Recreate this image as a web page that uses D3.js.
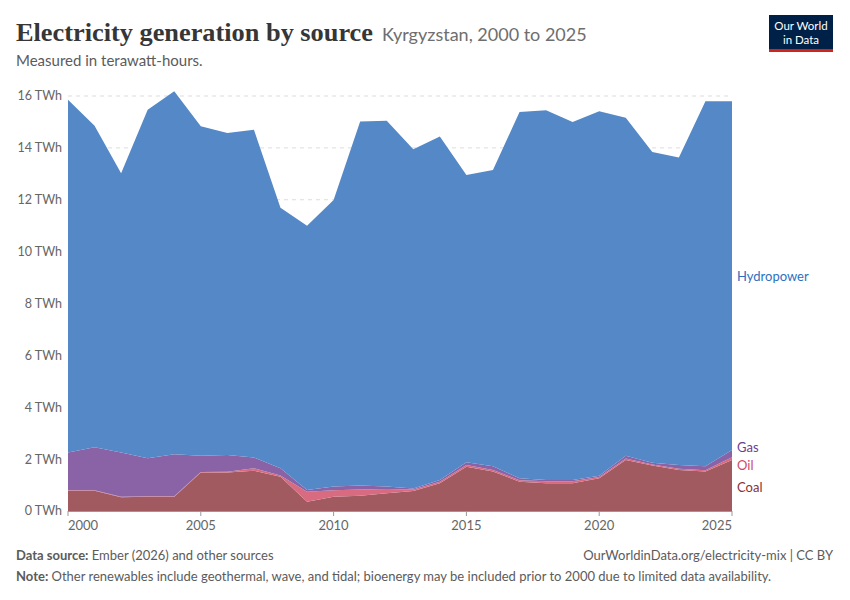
<!DOCTYPE html>
<html>
<head>
<meta charset="utf-8">
<script src="https://cdn.jsdelivr.net/npm/d3@7"></script>
<style>
  body { margin: 0; background: #fff; }
  text { font-family: Lato, "Noto Sans", sans-serif; }
</style>
</head>
<body>
<div id="chart"></div>
<script>
// values, TWh per year
let years = [2000, 2001, 2002, 2003, 2004, 2005, 2006, 2007, 2008, 2009, 2010, 2011, 2012,
             2013, 2014, 2015, 2016, 2017, 2018, 2019, 2020, 2021, 2022, 2023, 2024, 2025];
let coal = [0.78, 0.78, 0.53, 0.55, 0.55, 1.48, 1.48, 1.55, 1.32, 0.36, 0.55, 0.59, 0.68,
            0.77, 1.07, 1.71, 1.52, 1.13, 1.07, 1.07, 1.26, 1.97, 1.75, 1.58, 1.52, 1.97];
let oil = [0.02, 0.02, 0.02, 0.02, 0.02, 0.02, 0.03, 0.10, 0.05, 0.38, 0.25, 0.24, 0.17,
           0.06, 0.06, 0.06, 0.06, 0.06, 0.08, 0.08, 0.05, 0.05, 0.04, 0.05, 0.05, 0.10];
let gas = [1.46, 1.66, 1.71, 1.46, 1.62, 0.63, 0.65, 0.41, 0.28, 0.07, 0.14, 0.15, 0.09,
           0.04, 0.07, 0.11, 0.15, 0.07, 0.05, 0.05, 0.05, 0.11, 0.07, 0.14, 0.16, 0.28];
let hydro = [13.60, 12.39, 10.76, 13.44, 13.99, 12.70, 12.41, 12.64, 10.04, 10.19, 11.05, 14.04, 14.11,
             13.08, 13.24, 11.07, 11.42, 14.12, 14.25, 13.80, 14.05, 13.03, 11.98, 11.86, 14.07, 13.45];
let yTicks = [0, 2, 4, 6, 8, 10, 12, 14, 16];
let xTicks = [2000, 2005, 2010, 2015, 2020, 2025];

let sources = ["Coal", "Oil", "Gas", "Hydropower"];
let fills = { Coal: "#a05a60", Oil: "#d86b80", Gas: "#8a63a7", Hydropower: "#5488c7" };
let labelColors = { Coal: "#883039", Oil: "#cf4a68", Gas: "#6d3e91", Hydropower: "#2f6fbf" };

let width = 850, height = 600;
let plotLeft = 68, plotRight = 732, plotTop = 96, plotBottom = 511;

let svg = d3.select("#chart").append("svg")
    .attr("width", width)
    .attr("height", height);

// header
svg.append("text")
    .attr("x", 16).attr("y", 41)
    .style("font-family", "'Liberation Serif', 'DejaVu Serif', serif")
    .style("font-size", "26px")
    .style("font-weight", "bold")
    .attr("fill", "#363636")
    .attr("textLength", 357)
    .attr("lengthAdjust", "spacingAndGlyphs")
    .text("Electricity generation by source");

svg.append("text")
    .attr("x", 382).attr("y", 41)
    .style("font-size", "18px")
    .attr("fill", "#6e6e6e")
    .text("Kyrgyzstan, 2000 to 2025");

svg.append("text")
    .attr("x", 16).attr("y", 66)
    .style("font-size", "15px")
    .attr("fill", "#5b5b5b")
    .text("Measured in terawatt-hours.");

// logo
let logo = svg.append("g");
logo.append("rect").attr("x", 769).attr("y", 15).attr("width", 64).attr("height", 37).attr("fill", "#002147");
logo.append("rect").attr("x", 769).attr("y", 49).attr("width", 64).attr("height", 3).attr("fill", "#ce261e");
logo.append("text").attr("x", 801).attr("y", 30).attr("text-anchor", "middle")
    .style("font-size", "11.5px").attr("fill", "#fff").text("Our World");
logo.append("text").attr("x", 801).attr("y", 44).attr("text-anchor", "middle")
    .style("font-size", "11.5px").attr("fill", "#fff").text("in Data");

let x = d3.scaleLinear().domain([2000, 2025]).range([plotLeft, plotRight]);
let y = d3.scaleLinear().domain([0, 16]).range([plotBottom, plotTop]);

// gridlines + y labels
let grid = svg.append("g");
yTicks.forEach(function (t) {
    if (t > 0) {
        grid.append("line")
            .attr("x1", plotLeft).attr("x2", plotRight)
            .attr("y1", y(t)).attr("y2", y(t))
            .attr("stroke", "#dddddd")
            .attr("stroke-dasharray", "4,4");
    }
    grid.append("text")
        .attr("x", 62).attr("y", y(t)).attr("dy", "0.35em")
        .attr("text-anchor", "end")
        .style("font-size", "12.5px")
        .attr("fill", "#666")
        .text(t + " TWh");
});

// stacked areas
let rows = years.map(function (yr, i) {
    return { year: yr, Coal: coal[i], Oil: oil[i], Gas: gas[i], Hydropower: hydro[i] };
});
let stacked = d3.stack().keys(sources)(rows);

let area = d3.area()
    .x(function (d) { return x(d.data.year); })
    .y0(function (d) { return y(d[0]); })
    .y1(function (d) { return y(d[1]); });

svg.append("g").selectAll("path")
    .data(stacked)
    .enter()
    .append("path")
    .attr("d", area)
    .attr("fill", function (d) { return fills[d.key]; });

// x axis
let axis = svg.append("g");
axis.append("line")
    .attr("x1", plotLeft).attr("x2", plotRight)
    .attr("y1", plotBottom + 0.5).attr("y2", plotBottom + 0.5)
    .attr("stroke", "#999");
xTicks.forEach(function (t, i) {
    axis.append("line")
        .attr("x1", x(t)).attr("x2", x(t))
        .attr("y1", plotBottom).attr("y2", plotBottom + 5)
        .attr("stroke", "#999");
    let anchor = i === 0 ? "start" : (i === xTicks.length - 1 ? "end" : "middle");
    axis.append("text")
        .attr("x", x(t)).attr("y", 530)
        .attr("text-anchor", anchor)
        .style("font-size", "13px")
        .attr("fill", "#666")
        .text(t);
});

// series labels at right end
let labelY = { Hydropower: 276, Gas: 447, Oil: 465, Coal: 487 };
sources.forEach(function (s) {
    svg.append("text")
        .attr("x", 737).attr("y", labelY[s]).attr("dy", "0.35em")
        .style("font-size", "13px")
        .attr("fill", labelColors[s])
        .text(s);
});

// footer
let src = svg.append("text").attr("x", 16).attr("y", 560)
    .style("font-size", "13px").attr("fill", "#5b5b5b");
src.append("tspan").style("font-weight", "bold").text("Data source:");
src.append("tspan").text(" Ember (2026) and other sources");

svg.append("text").attr("x", 833).attr("y", 560)
    .attr("text-anchor", "end")
    .style("font-size", "13px").attr("fill", "#5b5b5b")
    .text("OurWorldinData.org/electricity-mix | CC BY");

let note = svg.append("text").attr("x", 16).attr("y", 581)
    .style("font-size", "13px").attr("fill", "#5b5b5b");
note.append("tspan").style("font-weight", "bold").text("Note:");
note.append("tspan").text(" Other renewables include geothermal, wave, and tidal; bioenergy may be included prior to 2000 due to limited data availability.");
</script>
</body>
</html>
